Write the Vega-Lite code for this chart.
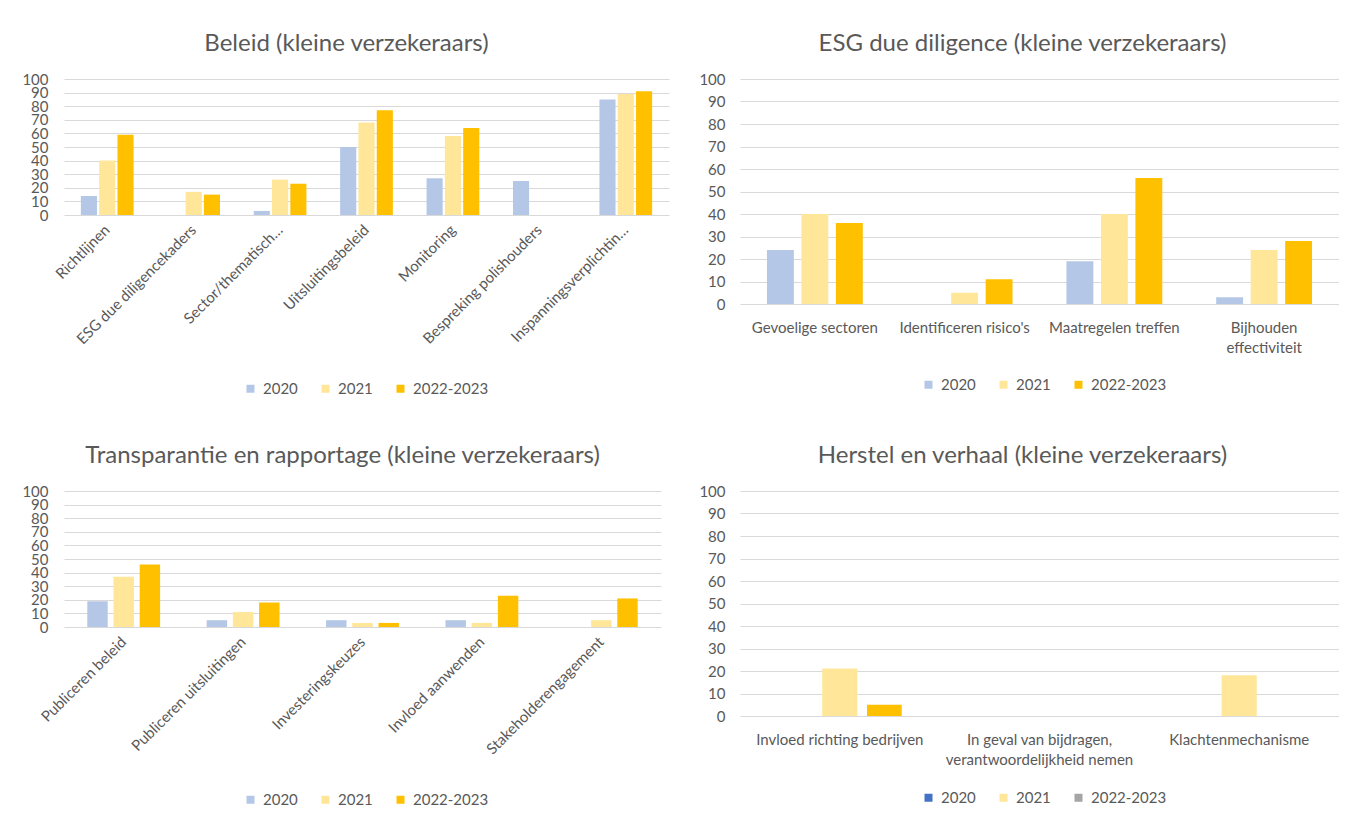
{
  "$schema": "https://vega.github.io/schema/vega-lite/v6.json",
  "background": "white",
  "padding": {"left": 21, "top": 32, "right": 0, "bottom": 0},
  "config": {
    "font": "Lato",
    "view": {"stroke": null},
    "axis": {"labelColor": "#595959", "labelFontSize": 15, "title": null, "ticks": false, "domain": false, "gridColor": "#D9D9D9", "gridWidth": 1},
    "title": {"fontSize": 24, "fontWeight": "normal", "color": "#595959", "anchor": "middle"},
    "legend": {"labelColor": "#595959", "labelFontSize": 15, "symbolType": "square", "symbolSize": 64, "symbolStrokeWidth": 0, "labelOffset": 5, "columnPadding": 20, "direction": "horizontal", "orient": "none"}
  },
  "datasets": {
    "beleid": [
      {"categorie": "Richtlijnen", "jaar": "2020", "waarde": 14},
      {"categorie": "Richtlijnen", "jaar": "2021", "waarde": 40},
      {"categorie": "Richtlijnen", "jaar": "2022-2023", "waarde": 59},
      {"categorie": "ESG due diligencekaders", "jaar": "2020", "waarde": 0},
      {"categorie": "ESG due diligencekaders", "jaar": "2021", "waarde": 17},
      {"categorie": "ESG due diligencekaders", "jaar": "2022-2023", "waarde": 15},
      {"categorie": "Sector/thematisch…", "jaar": "2020", "waarde": 3},
      {"categorie": "Sector/thematisch…", "jaar": "2021", "waarde": 26},
      {"categorie": "Sector/thematisch…", "jaar": "2022-2023", "waarde": 23},
      {"categorie": "Uitsluitingsbeleid", "jaar": "2020", "waarde": 50},
      {"categorie": "Uitsluitingsbeleid", "jaar": "2021", "waarde": 68},
      {"categorie": "Uitsluitingsbeleid", "jaar": "2022-2023", "waarde": 77},
      {"categorie": "Monitoring", "jaar": "2020", "waarde": 27},
      {"categorie": "Monitoring", "jaar": "2021", "waarde": 58},
      {"categorie": "Monitoring", "jaar": "2022-2023", "waarde": 64},
      {"categorie": "Bespreking polishouders", "jaar": "2020", "waarde": 25},
      {"categorie": "Bespreking polishouders", "jaar": "2021", "waarde": 0},
      {"categorie": "Bespreking polishouders", "jaar": "2022-2023", "waarde": 0},
      {"categorie": "Inspanningsverplichtin…", "jaar": "2020", "waarde": 85},
      {"categorie": "Inspanningsverplichtin…", "jaar": "2021", "waarde": 89},
      {"categorie": "Inspanningsverplichtin…", "jaar": "2022-2023", "waarde": 91}
    ],
    "esg": [
      {"categorie": "Gevoelige sectoren", "jaar": "2020", "waarde": 24},
      {"categorie": "Gevoelige sectoren", "jaar": "2021", "waarde": 40},
      {"categorie": "Gevoelige sectoren", "jaar": "2022-2023", "waarde": 36},
      {"categorie": "Identificeren risico's", "jaar": "2020", "waarde": 0},
      {"categorie": "Identificeren risico's", "jaar": "2021", "waarde": 5},
      {"categorie": "Identificeren risico's", "jaar": "2022-2023", "waarde": 11},
      {"categorie": "Maatregelen treffen", "jaar": "2020", "waarde": 19},
      {"categorie": "Maatregelen treffen", "jaar": "2021", "waarde": 40},
      {"categorie": "Maatregelen treffen", "jaar": "2022-2023", "waarde": 56},
      {"categorie": "Bijhouden effectiviteit", "jaar": "2020", "waarde": 3},
      {"categorie": "Bijhouden effectiviteit", "jaar": "2021", "waarde": 24},
      {"categorie": "Bijhouden effectiviteit", "jaar": "2022-2023", "waarde": 28}
    ],
    "transparantie": [
      {"categorie": "Publiceren beleid", "jaar": "2020", "waarde": 19},
      {"categorie": "Publiceren beleid", "jaar": "2021", "waarde": 37},
      {"categorie": "Publiceren beleid", "jaar": "2022-2023", "waarde": 46},
      {"categorie": "Publiceren uitsluitingen", "jaar": "2020", "waarde": 5},
      {"categorie": "Publiceren uitsluitingen", "jaar": "2021", "waarde": 11},
      {"categorie": "Publiceren uitsluitingen", "jaar": "2022-2023", "waarde": 18},
      {"categorie": "Investeringskeuzes", "jaar": "2020", "waarde": 5},
      {"categorie": "Investeringskeuzes", "jaar": "2021", "waarde": 3},
      {"categorie": "Investeringskeuzes", "jaar": "2022-2023", "waarde": 3},
      {"categorie": "Invloed aanwenden", "jaar": "2020", "waarde": 5},
      {"categorie": "Invloed aanwenden", "jaar": "2021", "waarde": 3},
      {"categorie": "Invloed aanwenden", "jaar": "2022-2023", "waarde": 23},
      {"categorie": "Stakeholderengagement", "jaar": "2020", "waarde": 0},
      {"categorie": "Stakeholderengagement", "jaar": "2021", "waarde": 5},
      {"categorie": "Stakeholderengagement", "jaar": "2022-2023", "waarde": 21}
    ],
    "herstel": [
      {"categorie": "Invloed richting bedrijven", "jaar": "2020", "waarde": 0},
      {"categorie": "Invloed richting bedrijven", "jaar": "2021", "waarde": 21},
      {"categorie": "Invloed richting bedrijven", "jaar": "2022-2023", "waarde": 5},
      {"categorie": "In geval van bijdragen, verantwoordelijkheid nemen", "jaar": "2020", "waarde": 0},
      {"categorie": "In geval van bijdragen, verantwoordelijkheid nemen", "jaar": "2021", "waarde": 0},
      {"categorie": "In geval van bijdragen, verantwoordelijkheid nemen", "jaar": "2022-2023", "waarde": 0},
      {"categorie": "Klachtenmechanisme", "jaar": "2020", "waarde": 0},
      {"categorie": "Klachtenmechanisme", "jaar": "2021", "waarde": 18},
      {"categorie": "Klachtenmechanisme", "jaar": "2022-2023", "waarde": 0}
    ]
  },
  "vconcat": [
    {
      "hconcat": [
        {
          "width": 605, "height": 136,
          "title": {"text": "Beleid (kleine verzekeraars)", "offset": 16, "dx": -20},
          "data": {"name": "beleid"},
          "mark": "bar",
          "encoding": {
            "x": {"field": "categorie", "type": "nominal", "sort": null, "scale": {"paddingInner": 0.39, "paddingOuter": 0.195}, "axis": {"labelAngle": -45, "labelBaseline": "middle", "labelPadding": 12, "labelLimit": 300}},
            "xOffset": {"field": "jaar", "type": "nominal", "scale": {"domain": ["2020", "2021", "2022-2023"], "paddingInner": 0.12}},
            "y": {"field": "waarde", "type": "quantitative", "scale": {"domain": [0, 100]}, "axis": {"values": [0, 10, 20, 30, 40, 50, 60, 70, 80, 90, 100], "labelPadding": 16, "labelOverlap": false}},
            "color": {"field": "jaar", "type": "nominal", "scale": {"domain": ["2020", "2021", "2022-2023"], "range": ["#B4C7E7", "#FFE699", "#FFC000"]}, "legend": {"title": null, "legendX": 179, "legendY": 302}}
          }
        },
        {
          "width": 599, "height": 225,
          "title": {"text": "ESG due diligence (kleine verzekeraars)", "offset": 16, "dx": -17},
          "data": {"name": "esg"},
          "mark": "bar",
          "encoding": {
            "x": {"field": "categorie", "type": "nominal", "sort": null, "scale": {"paddingInner": 0.36, "paddingOuter": 0.18}, "axis": {"labelAngle": 0, "labelPadding": 16, "labelLimit": 300, "labelExpr": "datum.value == 'Bijhouden effectiviteit' ? ['Bijhouden', 'effectiviteit'] : datum.value", "labelLineHeight": 20}},
            "xOffset": {"field": "jaar", "type": "nominal", "scale": {"domain": ["2020", "2021", "2022-2023"], "paddingInner": 0.22}},
            "y": {"field": "waarde", "type": "quantitative", "scale": {"domain": [0, 100]}, "axis": {"values": [0, 10, 20, 30, 40, 50, 60, 70, 80, 90, 100], "labelPadding": 15, "labelOverlap": false}},
            "color": {"field": "jaar", "type": "nominal", "scale": {"domain": ["2020", "2021", "2022-2023"], "range": ["#B4C7E7", "#FFE699", "#FFC000"]}, "legend": {"title": null, "legendX": 181, "legendY": 298}}
          }
        }
      ],
      "spacing": 29,
      "resolve": {"scale": {"color": "independent", "xOffset": "independent"}}
    },
    {
      "hconcat": [
        {
          "width": 597, "height": 136,
          "title": {"text": "Transparantie en rapportage (kleine verzekeraars)", "offset": 16, "dx": -20},
          "data": {"name": "transparantie"},
          "mark": "bar",
          "encoding": {
            "x": {"field": "categorie", "type": "nominal", "sort": null, "scale": {"paddingInner": 0.39, "paddingOuter": 0.195}, "axis": {"labelAngle": -45, "labelBaseline": "middle", "labelPadding": 12, "labelLimit": 300}},
            "xOffset": {"field": "jaar", "type": "nominal", "scale": {"domain": ["2020", "2021", "2022-2023"], "paddingInner": 0.22}},
            "y": {"field": "waarde", "type": "quantitative", "scale": {"domain": [0, 100]}, "axis": {"values": [0, 10, 20, 30, 40, 50, 60, 70, 80, 90, 100], "labelPadding": 16, "labelOverlap": false}},
            "color": {"field": "jaar", "type": "nominal", "scale": {"domain": ["2020", "2021", "2022-2023"], "range": ["#B4C7E7", "#FFE699", "#FFC000"]}, "legend": {"title": null, "legendX": 179, "legendY": 301}}
          }
        },
        {
          "width": 599, "height": 225,
          "title": {"text": "Herstel en verhaal (kleine verzekeraars)", "offset": 16, "dx": -17},
          "data": {"name": "herstel"},
          "encoding": {
            "x": {"field": "categorie", "type": "nominal", "sort": null, "scale": {"paddingInner": 0.38, "paddingOuter": 0.19}, "axis": {"labelAngle": 0, "labelPadding": 16, "labelLimit": 300, "labelExpr": "datum.value == 'In geval van bijdragen, verantwoordelijkheid nemen' ? ['In geval van bijdragen,', 'verantwoordelijkheid nemen'] : datum.value", "labelLineHeight": 20}},
            "xOffset": {"field": "jaar", "type": "nominal", "scale": {"domain": ["2020", "2021", "2022-2023"], "paddingInner": 0.22}},
            "y": {"field": "waarde", "type": "quantitative", "scale": {"domain": [0, 100]}, "axis": {"values": [0, 10, 20, 30, 40, 50, 60, 70, 80, 90, 100], "labelPadding": 15, "labelOverlap": false}}
          },
          "layer": [
            {
              "mark": "bar",
              "encoding": {
                "color": {"field": "jaar", "type": "nominal", "scale": {"domain": ["2020", "2021", "2022-2023"], "range": ["#B4C7E7", "#FFE699", "#FFC000"]}, "legend": null}
              }
            },
            {
              "transform": [{"filter": "datum.jaar == '2021'"}],
              "mark": "bar",
              "encoding": {
                "color": {"field": "jaar", "type": "nominal", "scale": {"domain": ["2020", "2021", "2022-2023"], "range": ["#4472C4", "#FFE699", "#A5A5A5"]}, "legend": {"title": null, "legendX": 181, "legendY": 299}}
              }
            }
          ],
          "resolve": {"scale": {"color": "independent"}}
        }
      ],
      "spacing": 37,
      "resolve": {"scale": {"color": "independent", "xOffset": "independent"}}
    }
  ],
  "spacing": 47,
  "resolve": {"scale": {"color": "independent", "xOffset": "independent"}}
}
